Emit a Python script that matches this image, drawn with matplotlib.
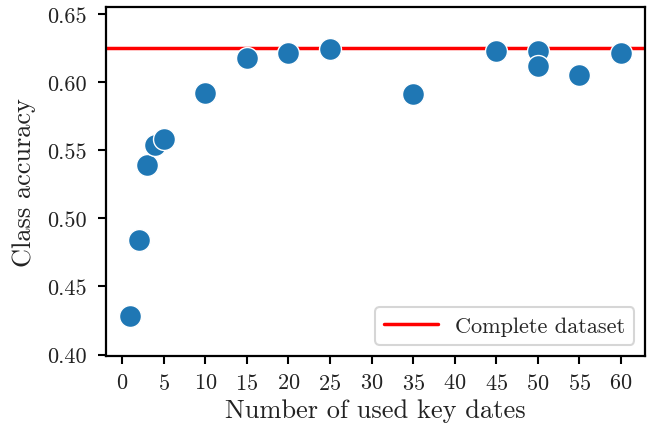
import matplotlib
matplotlib.use("Agg")
import matplotlib.pyplot as plt
import seaborn as sns

# accuracy per number of key dates used
n_key_dates = [1, 2, 3, 4, 5, 10, 15, 20, 25, 35, 45, 50, 50, 55, 60]
class_acc = [0.428, 0.484, 0.539, 0.554, 0.558, 0.592, 0.618, 0.621, 0.624,
             0.591, 0.623, 0.6225, 0.612, 0.605, 0.621]
complete_acc = 0.6247

sns.set_style("ticks")
plt.rcParams['font.family'] = ['cmr10', 'DejaVu Serif']
plt.rcParams['mathtext.fontset'] = 'cm'
plt.rcParams['axes.formatter.use_mathtext'] = True
plt.rcParams['axes.unicode_minus'] = False

fig = plt.figure(figsize=(6.62, 4.31), dpi=100)
ax = fig.add_axes([0.160, 0.172, 0.815, 0.809])

sns.scatterplot(x=n_key_dates, y=class_acc, s=250, color='#1f77b4',
                edgecolor='white', linewidth=1, ax=ax, zorder=3)
ax.axhline(complete_acc, color='red', lw=2.5, label='Complete dataset', zorder=2)

ax.set_ylim(0.399, 0.655)
ax.set_xticks(range(0, 61, 5))
ax.set_yticks([0.40, 0.45, 0.50, 0.55, 0.60, 0.65])
ax.set_yticklabels(['0.40', '0.45', '0.50', '0.55', '0.60', '0.65'])
ax.tick_params(labelsize=16, length=6, width=1.5, pad=6, color='black',
               labelcolor='#222222')
ax.tick_params(axis='y', pad=7.5)
for s in ax.spines.values():
    s.set_linewidth(1.6)
    s.set_color('black')

ax.set_xlabel("Number of used key dates", fontsize=19, color='#222222')
ax.set_ylabel("Class accuracy", fontsize=19, color='#222222', labelpad=8)
leg = ax.legend(loc='lower right', fontsize=16, handlelength=2.4)
leg.get_frame().set_linewidth(1.5)

fig.savefig("out.png", dpi=100)
